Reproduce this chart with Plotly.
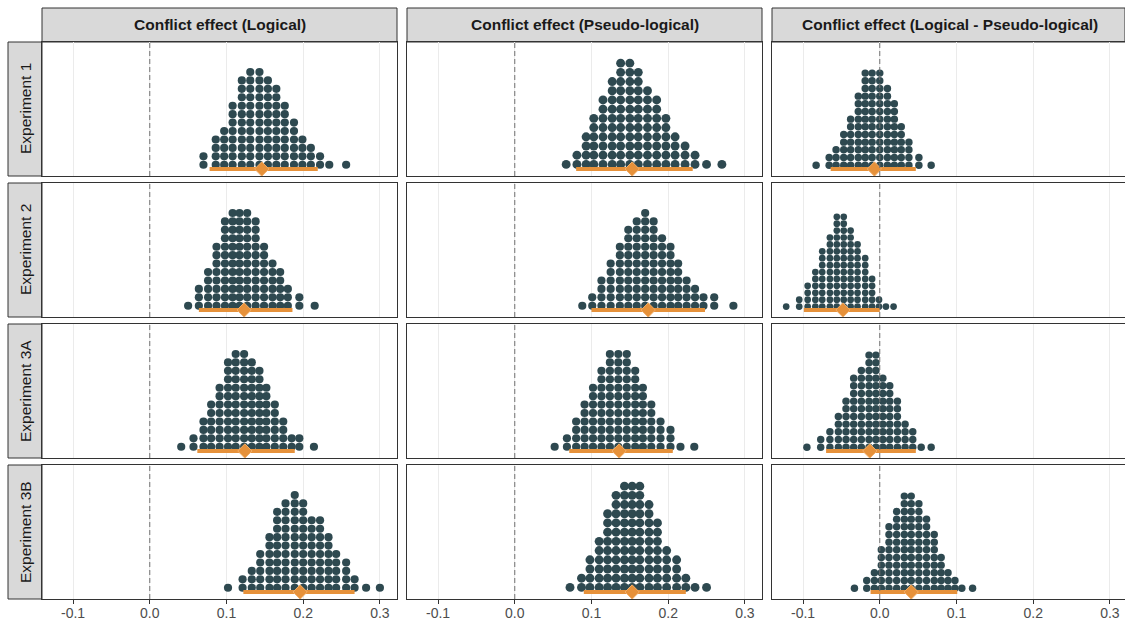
import numpy as np
import plotly.graph_objects as go

# ---------------------------------------------------------------- data
experiments = ["Experiment 1", "Experiment 2", "Experiment 3A", "Experiment 3B"]
effects = [
    "Conflict effect (Logical)",
    "Conflict effect (Pseudo-logical)",
    "Conflict effect (Logical - Pseudo-logical)",
]
tick_values = [-0.1, 0.0, 0.1, 0.2, 0.3]
tick_labels = ["-0.1", "0.0", "0.1", "0.2", "0.3"]

# quantile dotplots: bin centres and number of stacked dots (100 quantiles each)
exp1_logical_bins = [0.070, 0.086, 0.097, 0.108, 0.120, 0.131, 0.143, 0.154, 0.165, 0.176, 0.188, 0.199, 0.210, 0.222, 0.234, 0.256]
exp1_logical_counts = [2, 4, 5, 8, 11, 12, 12, 11, 10, 8, 6, 4, 3, 2, 1, 1]
exp1_pseudo_bins = [0.067, 0.081, 0.093, 0.103, 0.115, 0.127, 0.138, 0.150, 0.161, 0.173, 0.185, 0.197, 0.209, 0.222, 0.235, 0.250, 0.270]
exp1_pseudo_counts = [1, 2, 4, 6, 8, 10, 12, 12, 11, 9, 8, 6, 4, 3, 2, 1, 1]
exp1_diff_bins = [-0.083, -0.066, -0.057, -0.047, -0.038, -0.028, -0.019, -0.010, 0.000, 0.010, 0.019, 0.028, 0.038, 0.051, 0.067]
exp1_diff_counts = [1, 2, 3, 5, 7, 10, 13, 13, 13, 11, 9, 6, 4, 2, 1]

exp2_logical_bins = [0.050, 0.064, 0.076, 0.087, 0.098, 0.108, 0.117, 0.127, 0.138, 0.149, 0.160, 0.170, 0.180, 0.195, 0.215]
exp2_logical_counts = [1, 3, 5, 8, 11, 12, 12, 12, 11, 8, 6, 5, 3, 2, 1]
exp2_pseudo_bins = [0.088, 0.101, 0.113, 0.125, 0.137, 0.148, 0.159, 0.170, 0.181, 0.192, 0.203, 0.213, 0.224, 0.235, 0.246, 0.260, 0.285]
exp2_pseudo_counts = [1, 2, 4, 6, 8, 10, 11, 12, 11, 9, 8, 6, 4, 3, 2, 2, 1]
exp2_diff_bins = [-0.122, -0.105, -0.094, -0.084, -0.075, -0.065, -0.056, -0.047, -0.038, -0.029, -0.019, -0.010, -0.001, 0.008, 0.018]
exp2_diff_counts = [1, 2, 4, 6, 9, 11, 14, 14, 12, 10, 8, 5, 2, 1, 1]

exp3a_logical_bins = [0.041, 0.057, 0.070, 0.080, 0.091, 0.102, 0.112, 0.123, 0.133, 0.143, 0.152, 0.163, 0.174, 0.185, 0.195, 0.214]
exp3a_logical_counts = [1, 2, 4, 6, 8, 11, 12, 12, 11, 10, 8, 6, 4, 2, 2, 1]
exp3a_pseudo_bins = [0.052, 0.068, 0.080, 0.091, 0.102, 0.113, 0.124, 0.135, 0.146, 0.157, 0.167, 0.178, 0.190, 0.203, 0.216, 0.234]
exp3a_pseudo_counts = [1, 2, 4, 6, 8, 10, 12, 12, 12, 10, 8, 6, 4, 3, 1, 1]
exp3a_diff_bins = [-0.095, -0.077, -0.065, -0.054, -0.044, -0.034, -0.024, -0.014, -0.005, 0.004, 0.013, 0.023, 0.033, 0.043, 0.054, 0.067]
exp3a_diff_counts = [1, 2, 3, 5, 7, 10, 11, 13, 13, 10, 9, 7, 4, 3, 1, 1]

exp3b_logical_bins = [0.102, 0.121, 0.133, 0.144, 0.156, 0.166, 0.177, 0.189, 0.200, 0.211, 0.222, 0.233, 0.243, 0.256, 0.267, 0.282, 0.300]
exp3b_logical_counts = [1, 2, 3, 5, 7, 10, 11, 12, 11, 9, 9, 7, 5, 4, 2, 1, 1]
exp3b_pseudo_bins = [0.072, 0.087, 0.098, 0.110, 0.121, 0.132, 0.143, 0.153, 0.163, 0.175, 0.186, 0.198, 0.211, 0.223, 0.235, 0.250]
exp3b_pseudo_counts = [1, 2, 4, 6, 9, 11, 12, 12, 12, 10, 8, 5, 4, 2, 1, 1]
exp3b_diff_bins = [-0.033, -0.017, -0.007, 0.002, 0.012, 0.022, 0.032, 0.041, 0.051, 0.061, 0.071, 0.080, 0.089, 0.098, 0.107, 0.121]
exp3b_diff_counts = [1, 2, 3, 6, 9, 11, 13, 13, 12, 10, 8, 5, 3, 2, 1, 1]

# point estimates and interval limits, one value per experiment
logical_point = [0.146, 0.123, 0.124, 0.196]
logical_lower = [0.078, 0.064, 0.062, 0.122]
logical_upper = [0.219, 0.186, 0.189, 0.267]
pseudo_point = [0.153, 0.174, 0.136, 0.153]
pseudo_lower = [0.080, 0.100, 0.071, 0.090]
pseudo_upper = [0.232, 0.248, 0.206, 0.223]
diff_point = [-0.007, -0.048, -0.013, 0.041]
diff_lower = [-0.064, -0.099, -0.070, -0.012]
diff_upper = [0.047, 0.000, 0.047, 0.101]

bins_grid = [
    [exp1_logical_bins, exp1_pseudo_bins, exp1_diff_bins],
    [exp2_logical_bins, exp2_pseudo_bins, exp2_diff_bins],
    [exp3a_logical_bins, exp3a_pseudo_bins, exp3a_diff_bins],
    [exp3b_logical_bins, exp3b_pseudo_bins, exp3b_diff_bins],
]
counts_grid = [
    [exp1_logical_counts, exp1_pseudo_counts, exp1_diff_counts],
    [exp2_logical_counts, exp2_pseudo_counts, exp2_diff_counts],
    [exp3a_logical_counts, exp3a_pseudo_counts, exp3a_diff_counts],
    [exp3b_logical_counts, exp3b_pseudo_counts, exp3b_diff_counts],
]
point_cols = [logical_point, pseudo_point, diff_point]
lower_cols = [logical_lower, pseudo_lower, diff_lower]
upper_cols = [logical_upper, pseudo_upper, diff_upper]

# ---------------------------------------------------------------- style
W, H = 1125, 624
DOT = "#2E4950"
ORANGE = "#E6913A"
ORANGE_EDGE = "#F2AE68"
BORDER = "#333333"
STRIP_FILL = "#D9D9D9"
GRID = "#EBEBEB"
FONT = "Liberation Sans, Arial, sans-serif"

col_left = [42, 407, 772]
panel_w = 355
row_top = [42, 183, 324, 465]
panel_h = 134
strip_outer = 8          # outer edge of the strips
baseline_px = 7          # distance of the dot baseline above the panel bottom
x_min, x_max = -0.1405, 0.3223
px_per_unit = panel_w / (x_max - x_min)

fig = go.Figure()
layout = {}
shapes = []
annotations = []

for r in range(4):
    for c in range(3):
        n = r * 3 + c + 1
        xa = "x" if n == 1 else f"x{n}"
        ya = "y" if n == 1 else f"y{n}"
        L = col_left[c]
        R = min(L + panel_w, W)
        T = row_top[r]
        B = T + panel_h
        x_hi = x_min + (R - L) / px_per_unit

        bottom_row = r == 3
        layout["xaxis" if n == 1 else f"xaxis{n}"] = dict(
            domain=[L / W, R / W], range=[x_min, x_hi], anchor=ya,
            tickvals=tick_values, ticktext=tick_labels,
            showticklabels=bottom_row, ticklabelstandoff=-3,
            ticks="outside" if bottom_row else "", ticklen=4, tickwidth=1, tickcolor=BORDER,
            tickfont=dict(family=FONT, size=14, color="#4D4D4D"),
            showgrid=True, gridcolor=GRID, gridwidth=1, zeroline=False,
            showline=True, mirror=True, linecolor=BORDER, linewidth=1,
            fixedrange=True,
        )
        layout["yaxis" if n == 1 else f"yaxis{n}"] = dict(
            domain=[1 - B / H, 1 - T / H], range=[-baseline_px, panel_h - baseline_px],
            anchor=xa, showticklabels=False, ticks="", showgrid=False, zeroline=False,
            showline=True, mirror=True, linecolor=BORDER, linewidth=1, fixedrange=True,
        )

        bins = bins_grid[r][c]
        counts = counts_grid[r][c]
        dot_px = float(np.median(np.diff(bins))) * px_per_unit
        xs, ys = [], []
        for b, k in zip(bins, counts):
            for j in range(k):
                xs.append(b)
                ys.append((j + 0.5) * dot_px)
        fig.add_trace(go.Scatter(
            x=xs, y=ys, xaxis=xa, yaxis=ya, mode="markers",
            marker=dict(size=dot_px * 0.97, color=DOT, line=dict(width=0)),
            hoverinfo="skip", showlegend=False,
        ))
        fig.add_trace(go.Scatter(
            x=[lower_cols[c][r], upper_cols[c][r]], y=[0, 0], xaxis=xa, yaxis=ya,
            mode="lines", line=dict(color=ORANGE, width=4),
            hoverinfo="skip", showlegend=False,
        ))
        fig.add_trace(go.Scatter(
            x=[point_cols[c][r]], y=[0], xaxis=xa, yaxis=ya, mode="markers",
            marker=dict(symbol="diamond", size=11, color=ORANGE,
                        line=dict(color=ORANGE_EDGE, width=1)),
            hoverinfo="skip", showlegend=False,
        ))

        # dashed reference line at zero
        shapes.append(dict(
            type="line", xref=xa, yref=f"{ya} domain", x0=0, x1=0, y0=0, y1=1,
            line=dict(color="#707070", width=1, dash="5px,3px"), layer="above",
        ))

# column strips
for c, label in enumerate(effects):
    L = col_left[c]
    R = min(L + panel_w, W)
    shapes.append(dict(
        type="rect", xref="paper", yref="paper",
        x0=L / W, x1=R / W, y0=1 - row_top[0] / H, y1=1 - strip_outer / H,
        fillcolor=STRIP_FILL, line=dict(color=BORDER, width=1), layer="below",
    ))
    annotations.append(dict(
        text=f"<b>{label}</b>", xref="paper", yref="paper",
        x=(L + panel_w / 2) / W, y=1 - (row_top[0] + strip_outer) / 2 / H,
        showarrow=False, xanchor="center", yanchor="middle",
        font=dict(family=FONT, size=15.5, color="#1A1A1A"),
    ))

# row strips
for r, label in enumerate(experiments):
    T = row_top[r]
    B = T + panel_h
    shapes.append(dict(
        type="rect", xref="paper", yref="paper",
        x0=strip_outer / W, x1=col_left[0] / W, y0=1 - B / H, y1=1 - T / H,
        fillcolor=STRIP_FILL, line=dict(color=BORDER, width=1), layer="below",
    ))
    annotations.append(dict(
        text=label, xref="paper", yref="paper",
        x=(strip_outer + col_left[0]) / 2 / W, y=1 - (T + B) / 2 / H,
        showarrow=False, xanchor="center", yanchor="middle", textangle=-90,
        font=dict(family=FONT, size=15.5, color="#1A1A1A"),
    ))

fig.update_layout(
    width=W, height=H, margin=dict(l=0, r=0, t=0, b=0),
    paper_bgcolor="white", plot_bgcolor="white",
    showlegend=False, shapes=shapes, annotations=annotations,
    **layout,
)

fig.write_html("out.html")
